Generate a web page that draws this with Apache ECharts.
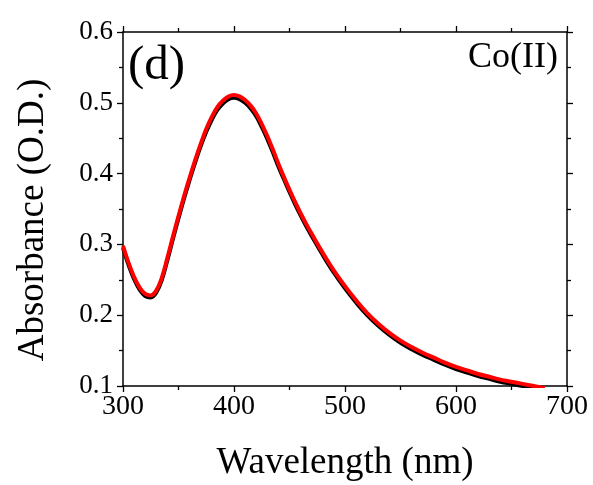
<!DOCTYPE html>
<html>
<head>
<meta charset="utf-8">
<script src="https://cdn.jsdelivr.net/npm/echarts@6/dist/echarts.min.js"></script>
<style>html,body{margin:0;padding:0;background:#fff}#c{width:593px;height:485px}</style>
</head>
<body>
<div id="c"></div>
<script>
var wavelengths = [300,305,310,315,320,325,330,335,340,345,350,355,360,365,370,375,380,385,390,395,400,405,410,415,420,425,430,435,440,445,450,455,460,465,470,480,490,500,510,520,530,540,550,560,570,580,590,600,610,620,630,640,650,660,670,680];
var blackSeries = [0.295,0.271,0.251,0.236,0.227,0.225,0.232,0.250,0.278,0.308,0.337,0.365,0.391,0.416,0.439,0.459,0.476,0.490,0.499,0.505,0.507,0.505,0.500,0.492,0.481,0.466,0.449,0.430,0.410,0.392,0.374,0.357,0.341,0.326,0.312,0.285,0.260,0.238,0.218,0.200,0.185,0.172,0.161,0.152,0.144,0.137,0.130,0.124,0.119,0.114,0.110,0.106,0.103,0.100,0.097,0.094];
var redSeries = [0.298,0.274,0.254,0.239,0.230,0.228,0.235,0.253,0.281,0.311,0.340,0.368,0.394,0.419,0.442,0.463,0.480,0.494,0.503,0.509,0.511,0.509,0.504,0.496,0.485,0.470,0.453,0.434,0.414,0.395,0.377,0.360,0.344,0.329,0.315,0.288,0.263,0.241,0.221,0.203,0.188,0.175,0.164,0.155,0.147,0.140,0.133,0.127,0.122,0.117,0.113,0.109,0.106,0.103,0.100,0.097];
var xTicks = [300,400,500,600,700];
var yTicks = [0.1,0.2,0.3,0.4,0.5,0.6];

var font = '"Liberation Serif","Times New Roman",serif';
function pairs(ys){ return wavelengths.map(function(x,i){ return [x, ys[i]]; }); }
function axisCommon(){
  return {
    axisLine:{show:true,onZero:false,lineStyle:{color:'#000',width:1.5}},
    axisTick:{show:true,inside:false,length:6,lineStyle:{color:'#000',width:1.3}},
    minorTick:{show:true,splitNumber:2,length:4,lineStyle:{color:'#000',width:1.3}},
    splitLine:{show:false}
  };
}
function xa(pos, labels){
  return Object.assign({type:'value',position:pos,min:300,max:700,interval:100,
    axisLabel:{show:labels,color:'#000',fontFamily:font,fontSize:28,margin:7,
      formatter:function(v){return xTicks.indexOf(v)>=0?String(v):'';}}}, axisCommon());
}
function ya(pos, labels){
  return Object.assign({type:'value',position:pos,min:0.1,max:0.6,interval:0.1,
    axisLabel:{show:labels,color:'#000',fontFamily:font,fontSize:27,margin:10,
      formatter:function(v){return v.toFixed(1);}}}, axisCommon());
}
var chart = echarts.init(document.getElementById('c'));
chart.setOption({
  backgroundColor:'#fff',
  animation:false,
  grid:{left:123,right:26,top:32,bottom:99,containLabel:false},
  xAxis:[xa('bottom',true), xa('top',false)],
  yAxis:[ya('left',true), ya('right',false)],
  series:[
    {type:'line',data:pairs(blackSeries),showSymbol:false,smooth:0.4,clip:true,
      lineStyle:{color:'#000',width:4}},
    {type:'line',data:pairs(redSeries),showSymbol:false,smooth:0.4,clip:true,
      lineStyle:{color:'#ff0000',width:4}}
  ],
  graphic:[
    {type:'text',left:128,top:42,style:{text:'(d)',font:'49px '+font,fill:'#000'}},
    {type:'text',right:35,top:40,style:{text:'Co(II)',font:'36px '+font,fill:'#000'}},
    {type:'text',x:345,y:463,style:{text:'Wavelength (nm)',font:'37px '+font,fill:'#000',align:'center',verticalAlign:'middle'}},
    {type:'text',x:33,y:220,rotation:Math.PI/2,style:{text:'Absorbance (O.D.)',font:'37px '+font,fill:'#000',align:'center',verticalAlign:'middle'}}
  ]
});
</script>
</body>
</html>
